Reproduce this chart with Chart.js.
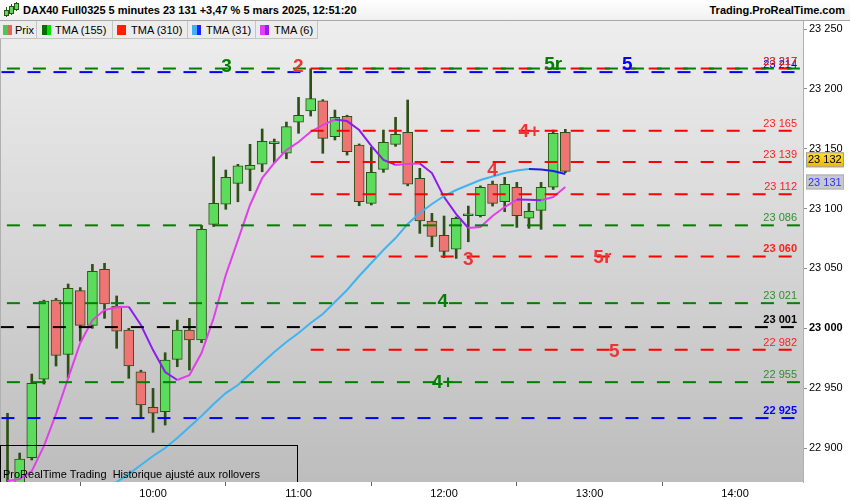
<!DOCTYPE html>
<html>
<head>
<meta charset="utf-8">
<title>DAX40 Full0325 5 minutes</title>
<script src="https://cdn.jsdelivr.net/npm/chart.js@4.4.1/dist/chart.umd.min.js"></script>
<style>
    body { margin: 0; background: #fff; font-family: "Liberation Sans", Arial, sans-serif; }
    #wrap { position: relative; width: 850px; height: 500px; overflow: hidden; }
    #chart { position: absolute; left: 0; top: 0; }
    #header {
        position: absolute; left: 0; top: 0; width: 850px; height: 21px; box-sizing: border-box;
        background: linear-gradient(#ffffff, #f0f0f0); border-bottom: 1px solid #a8a8a8;
        font-size: 11px; font-weight: bold; color: #000;
    }
    #title { position: absolute; left: 23px; top: 4px; white-space: nowrap; }
    #site { position: absolute; right: 5px; top: 4px; white-space: nowrap; }
    .ico { position: absolute; width: 3px; background: #5cdc5c; border: 1px solid #2d5016; }
    .ico-w { position: absolute; width: 1px; background: #2d5016; }
    #legend { position: absolute; left: 0; top: 21px; height: 19px; display: flex; font-size: 11px; }
    .item {
        position: relative; height: 18px; box-sizing: border-box; background: #ececec;
        border-right: 1px solid #c4c4c4; border-bottom: 1px solid #c4c4c4; padding-left: 15px; line-height: 18px;
        white-space: nowrap;
    }
    .sw { position: absolute; left: 3px; top: 4px; width: 9px; height: 10px; display: flex; }
    .sw span { flex: 1; }
    #note {
        position: absolute; left: 0; top: 445px; width: 298px; height: 37px; box-sizing: border-box;
        border: 1px solid #000; border-bottom: none; font-size: 11px; color: #000;
    }
    #note span { position: absolute; left: 2px; bottom: 2px; white-space: nowrap; }
</style>
</head>
<body>
<div id="wrap">
    <canvas id="chart" width="850" height="500"></canvas>
    <div id="header">
        <div class="ico-w" style="left:6px;top:7px;height:10px"></div>
        <div class="ico" style="left:4px;top:10px;height:4px"></div>
        <div class="ico-w" style="left:11px;top:4px;height:11px"></div>
        <div class="ico" style="left:9px;top:6px;height:6px"></div>
        <div class="ico-w" style="left:16px;top:2px;height:9px"></div>
        <div class="ico" style="left:14px;top:3px;height:5px"></div>
        <div id="title">DAX40 Full0325 5 minutes 23 131 +3,47 % 5 mars 2025, 12:51:20</div>
        <div id="site">Trading.ProRealTime.com</div>
    </div>
    <div id="legend">
        <div class="item" style="width:37px"><div class="sw"><span style="background:#4cc84c"></span><span style="background:#e06464"></span></div>Prix</div>
        <div class="item" style="width:76px;padding-left:18px"><div class="sw" style="left:5px"><span style="background:#007000"></span><span style="background:#00e000"></span></div>TMA (155)</div>
        <div class="item" style="width:75px;padding-left:18px"><div class="sw" style="left:4px"><span style="background:#ff2000"></span></div>TMA (310)</div>
        <div class="item" style="width:68px;padding-left:18px"><div class="sw" style="left:4px"><span style="background:#40b0f0"></span><span style="background:#2020ff"></span></div>TMA (31)</div>
        <div class="item" style="width:62px;padding-left:18px"><div class="sw" style="left:4px"><span style="background:#e040f0"></span><span style="background:#9020f0"></span></div>TMA (6)</div>
    </div>
    <div id="note"><span>ProRealTime Trading&nbsp; Historique ajusté aux rollovers</span></div>
</div>

<script>
// 5 minute candles, 9:00 to 12:50
const opens = [22862, 22862, 22892, 22957.4, 23023.6, 22978.2, 23031.4, 23002.5, 23049.2, 23018.6,
    22998.5, 22963.7, 22934, 22930.3, 22974.1, 22998.5, 22990.2, 23086.8, 23103.6, 23121.1,
    23132.8, 23137, 23154.2, 23146.2, 23172.1, 23181.5, 23190.1, 23160, 23177.1, 23153.1,
    23104.4, 23132.8, 23153.7, 23163.7, 23125.3, 23089.6, 23077.7, 23066, 23094, 23094,
    23120.5, 23105.7, 23117.8, 23091.9, 23098.5, 23117.8, 23163.7];
const highs = [22929, 22895.8, 22961.8, 23023.5, 23025, 23037, 23034, 23053.4, 23054.3, 23027,
    23000, 22965, 22949.8, 22979.6, 23006.9, 23008.3, 23086, 23143.3, 23132.2, 23137,
    23153.7, 23166.5, 23158.1, 23172.3, 23192.9, 23216.8, 23191, 23182.3, 23178, 23154,
    23151.2, 23165.6, 23176.2, 23190.7, 23133.6, 23096, 23093.8, 23093, 23102.1, 23119,
    23123, 23126.1, 23121.9, 23104.4, 23121.9, 23165.6, 23166.2];
const lows = [22850, 22855, 22890, 22953.4, 22968.5, 22958.7, 22989.3, 23000, 23008.3, 22983.3,
    22958.2, 22924.8, 22913.1, 22919.2, 22967.9, 22965.1, 22988, 23085, 23099.4, 23105.7,
    23114.9, 23130.8, 23138.3, 23141.6, 23162.9, 23177.3, 23146.2, 23157.3, 23144.7, 23102.4,
    23103, 23130.3, 23152, 23119, 23079.3, 23068.1, 23059, 23058.4, 23072.3, 23093,
    23102.1, 23097.4, 23084.3, 23083.5, 23082.7, 23116, 23130];
const closes = [22868, 22890.8, 22954, 23022.8, 22977.4, 23033.4, 23002.5, 23047.6, 23020.3, 22997.7,
    22968.5, 22935.9, 22929, 22973.5, 22998.5, 22990.2, 23082.7, 23104.4, 23126.1, 23135.8,
    23136.1, 23156.2, 23154.5, 23168.4, 23177.9, 23191.8, 23158.7, 23176.2, 23147.5, 23105.7,
    23130.3, 23155.3, 23162, 23120.3, 23089.6, 23076.8, 23064.3, 23091.9, 23094.3, 23117.8,
    23104.4, 23120.3, 23094, 23097.7, 23117.8, 23162.9, 23131.1];

// moving averages (TMA 155 and 310 sit outside the visible range)
const tma31 = [null, null, null, null, null, null, null, null, 22863.2, 22871.6,
    22878.2, 22885.8, 22893.3, 22900, 22908.3, 22917.5, 22926.7, 22936.7, 22945.9, 22952.6,
    22961.8, 22971, 22980.2, 22988.5, 22996, 23004.4, 23011.9, 23021.9, 23032, 23043.7,
    23054.5, 23065.4, 23075.4, 23087.1, 23096.3, 23103.8, 23110.5, 23115.5, 23119.7, 23123.9,
    23126.8, 23129.7, 23131.8, 23133, 23132.6, 23131.4, 23128.9];
const tma6 = [22872.4, 22874.1, 22880.7, 22901.6, 22928.4, 22958.4, 22987.7, 23006.9, 23015.2, 23017.5,
    23018, 23002.7, 22981.8, 22963.5, 22956.8, 22960.9, 22979.3, 23008.6, 23044.5, 23073.7,
    23103, 23125.5, 23138.1, 23148.9, 23155.6, 23164.2, 23169.8, 23174.4, 23173.1, 23165.6,
    23152.3, 23140.6, 23136.5, 23137.2, 23137.6, 23129.7, 23109.6, 23095.4, 23083.8, 23084.6,
    23093.8, 23101.3, 23107.5, 23107.3, 23107, 23109.6, 23118];

// horizontal levels
const greenLevels = [23217, 23086, 23021, 22955];
const blueLevels = [23214, 22925];
const blackLevels = [23001];
const redLevels = [23217, 23165, 23139, 23112, 23060, 22982];
const redStartBar = 25;

// level markers written on the chart
const markerText = ['3', '2', '5r', '5', '4+', '4', '3', '5r', '4', '5', '4+'];
const markerBar = [18.07, 23.97, 45.0, 51.1, 43.03, 40.0, 38.0, 49.05, 35.9, 50.04, 35.9];
const markerPrice = [23219, 23219, 23221, 23221, 23165.2, 23132.6, 23058.3, 23059.5, 23023, 22981, 22955.5];
const markerGroup = ['green', 'red', 'green', 'blue', 'red', 'red', 'red', 'red', 'green', 'red', 'green'];

// axes
const tickBars = [12, 24, 36, 48, 60];
const tickLabels = ['10:00', '11:00', '12:00', '13:00', '14:00'];
const yTicks = [22900, 22950, 23000, 23050, 23100, 23150, 23200, 23250];
const lastPrice = 23132;
const lastTma = 23131;

const X_MIN = -0.62, X_MAX = 65.6;
const Y_MIN = 22871.6, Y_MAX = 23256.7;
const FONT = '"Liberation Sans", Arial, sans-serif';

const lineColors = { green: '#008000', red: '#ff0000', blue: '#0000ff', black: '#000000' };
const labelColors = { green: '#2f8f2f', red: '#ff2020', blue: '#0000ff', black: '#000000' };
const markColors = { green: '#008000', red: '#ee3535', blue: '#0000ff' };
const boldLevels = [23060, 23001, 22925];

const outline = '#2d5016';

function fmt(v) {
    return String(Math.round(v)).replace(/\B(?=(\d{3})+(?!\d))/g, ' ');
}

function levelDataset(value, group, start) {
    return {
        type: 'line',
        data: [{ x: start, y: value }, { x: X_MAX, y: value }],
        borderColor: lineColors[group],
        borderWidth: 2,
        borderDash: [13, 13],
        pointRadius: 0,
        order: 1
    };
}

const datasets = [];

// levels: green, blue, black from the left edge, red from the bar of the high
greenLevels.forEach(v => datasets.push(levelDataset(v, 'green', -0.05)));
blueLevels.forEach(v => datasets.push(levelDataset(v, 'blue', -0.5)));
blackLevels.forEach(v => datasets.push(levelDataset(v, 'black', -0.55)));
redLevels.forEach(v => datasets.push(levelDataset(v, 'red', redStartBar)));

datasets.push({
    type: 'line',
    data: tma31.map((v, i) => ({ x: i, y: v })),
    borderWidth: 2,
    pointRadius: 0,
    spanGaps: false,
    segment: { borderColor: c => c.p1.parsed.y >= c.p0.parsed.y ? '#3fb4f0' : '#1c1cf0' },
    borderColor: '#3fb4f0',
    order: 2
});
datasets.push({
    type: 'line',
    data: tma6.map((v, i) => ({ x: i, y: v })),
    borderWidth: 2,
    pointRadius: 0,
    segment: { borderColor: c => c.p1.parsed.y >= c.p0.parsed.y ? '#e040e8' : '#8c1cf0' },
    borderColor: '#e040e8',
    order: 2
});

// candle bodies
datasets.push({
    type: 'bar',
    data: opens.map((o, i) => ({ x: i, y: [o, closes[i]] })),
    backgroundColor: opens.map((o, i) => closes[i] >= o ? '#5cdc5c' : '#ef7575'),
    borderColor: outline,
    borderWidth: 1,
    borderSkipped: false,
    barThickness: 10,
    minBarLength: 2,
    grouped: false,
    order: 3
});
// wicks
datasets.push({
    type: 'bar',
    data: lows.map((l, i) => ({ x: i, y: [l, highs[i]] })),
    backgroundColor: outline,
    borderWidth: 0,
    barThickness: 2,
    grouped: false,
    order: 4
});

const overlay = {
    id: 'overlay',
    beforeDraw(chart) {
        const { ctx, chartArea: a } = chart;
        ctx.save();
        ctx.fillStyle = '#fff';
        ctx.fillRect(0, 0, chart.width, chart.height);
        const g = ctx.createLinearGradient(0, a.top, 0, a.bottom);
        g.addColorStop(0, '#eeeeee');
        g.addColorStop(1, '#bdbdbd');
        ctx.fillStyle = g;
        ctx.fillRect(a.left, a.top, a.right - a.left, a.bottom - a.top);
        ctx.fillStyle = '#b0b0b0';
        ctx.fillRect(a.left, a.top, 1, a.bottom - a.top);
        ctx.restore();
    },
    afterDatasetsDraw(chart) {
        const { ctx, chartArea: a, scales } = chart;
        const x = scales.x, y = scales.y;
        ctx.save();

        // level values, right side of the plot
        ctx.textAlign = 'right';
        ctx.textBaseline = 'alphabetic';
        const groups = [['green', greenLevels], ['blue', blueLevels], ['black', blackLevels], ['red', redLevels]];
        groups.forEach(([group, values]) => {
            values.forEach(v => {
                ctx.font = (boldLevels.includes(v) ? 'bold ' : '') + '11px ' + FONT;
                ctx.fillStyle = labelColors[group];
                ctx.fillText(fmt(v), a.right - 6, y.getPixelForValue(v) - 4);
            });
        });

        // big markers
        ctx.font = 'bold 19px ' + FONT;
        ctx.textAlign = 'center';
        ctx.textBaseline = 'middle';
        markerText.forEach((t, i) => {
            ctx.fillStyle = markColors[markerGroup[i]];
            ctx.fillText(t, x.getPixelForValue(markerBar[i]), y.getPixelForValue(markerPrice[i]) + 1);
        });

        // last price and TMA boxes on the axis
        ctx.font = '11px ' + FONT;
        ctx.textAlign = 'left';
        const py = y.getPixelForValue(lastPrice) - 11;
        const gy = ctx.createLinearGradient(0, py - 7, 0, py + 7);
        gy.addColorStop(0, '#ffe040');
        gy.addColorStop(1, '#f0b800');
        ctx.fillStyle = gy;
        ctx.fillRect(a.right + 3, py - 7, 38, 15);
        ctx.strokeStyle = '#a0a0a0';
        ctx.lineWidth = 1;
        ctx.strokeRect(a.right + 3.5, py - 6.5, 37, 14);
        ctx.fillStyle = '#000';
        ctx.fillText(fmt(lastPrice), a.right + 5, py + 1);

        const ty = y.getPixelForValue(lastTma) + 10;
        ctx.fillStyle = '#c8c8d0';
        ctx.fillRect(a.right + 3, ty - 7, 38, 15);
        ctx.strokeStyle = '#b0b0b0';
        ctx.strokeRect(a.right + 3.5, ty - 6.5, 37, 14);
        ctx.fillStyle = '#3030ff';
        ctx.fillText(fmt(lastTma), a.right + 5, ty + 1);

        ctx.restore();
    }
};

new Chart(document.getElementById('chart'), {
    type: 'bar',
    data: { datasets },
    options: {
        responsive: false,
        animation: false,
        layout: { padding: { top: 21, left: 0, right: 0, bottom: 0 } },
        plugins: { legend: { display: false }, tooltip: { enabled: false } },
        scales: {
            x: {
                type: 'linear',
                min: X_MIN,
                max: X_MAX,
                offset: false,
                grid: { display: true, drawOnChartArea: false, drawTicks: true, tickLength: 4, color: '#606060' },
                border: { display: false },
                afterBuildTicks: s => { s.ticks = tickBars.map(v => ({ value: v })); },
                afterFit: s => { s.height = 18; },
                ticks: {
                    padding: 1,
                    maxRotation: 0,
                    autoSkip: false,
                    color: '#000',
                    font: { family: FONT, size: 11 },
                    callback: v => tickLabels[tickBars.indexOf(v)]
                }
            },
            y: {
                position: 'right',
                min: Y_MIN,
                max: Y_MAX,
                grid: { display: true, drawOnChartArea: false, drawTicks: true, tickLength: 4, color: '#909090' },
                border: { display: true, color: '#b0b0b0' },
                afterBuildTicks: s => { s.ticks = yTicks.map(v => ({ value: v })); },
                afterFit: s => { s.width = 47; },
                ticks: {
                    padding: 2,
                    color: '#000',
                    font: c => ({ family: FONT, size: 11, weight: c.tick && c.tick.value === 23000 ? 'bold' : 'normal' }),
                    callback: v => fmt(v)
                }
            }
        }
    },
    plugins: [overlay]
});
</script>
</body>
</html>
